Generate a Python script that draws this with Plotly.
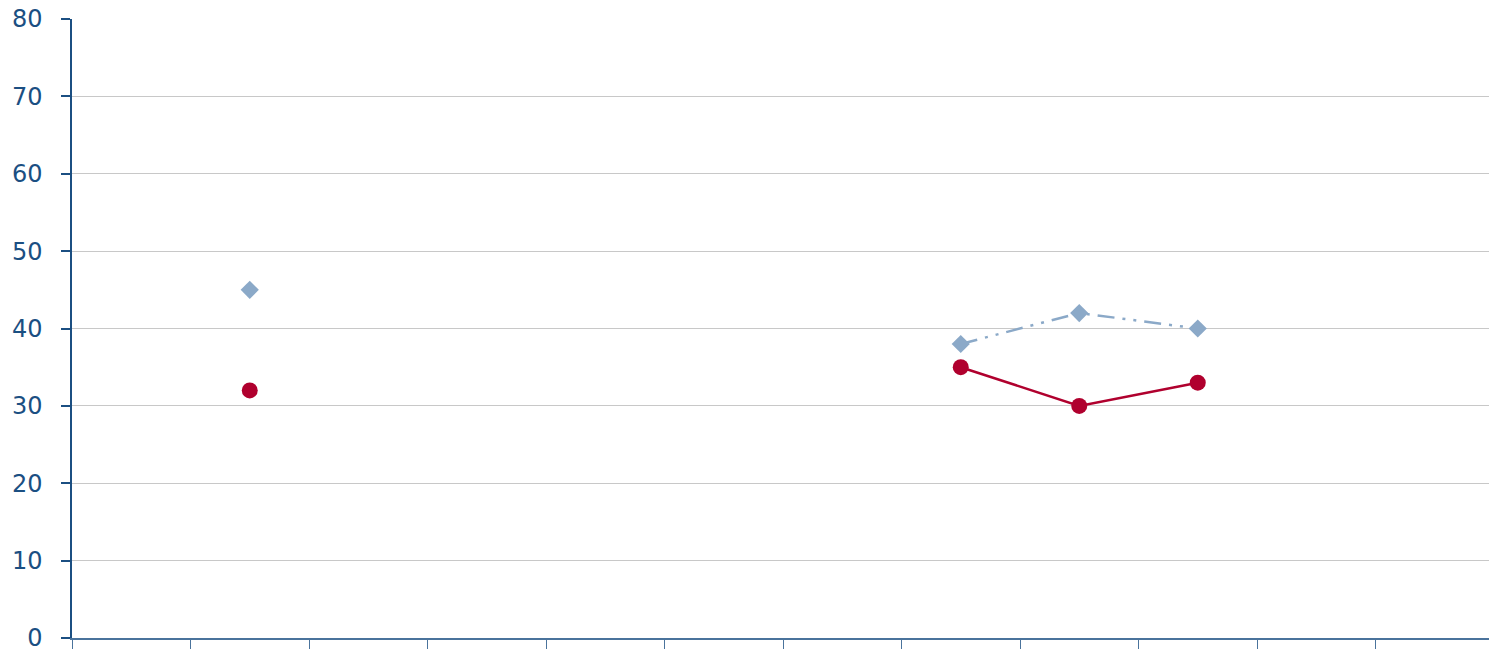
import plotly.graph_objects as go

categories = [str(i) for i in range(1, 13)]
series_a = [None, 45, None, None, None, None, None, 38, 42, 40, None, None]  # blue diamonds
series_b = [None, 32, None, None, None, None, None, 35, 30, 33, None, None]  # red circles
y_ticks = [0, 10, 20, 30, 40, 50, 60, 70, 80]

x_idx = list(range(len(categories)))

fig = go.Figure()
fig.add_trace(go.Scatter(
    x=x_idx, y=series_a, mode="lines+markers", connectgaps=False,
    line=dict(color="#8BA9C8", width=2.5, dash="17px,8px,3px,8px,3px,8px"),
    marker=dict(symbol="diamond", size=14, color="#8BA9C8"),
    showlegend=False,
))
fig.add_trace(go.Scatter(
    x=x_idx, y=series_b, mode="lines+markers", connectgaps=False,
    line=dict(color="#B0002E", width=2.5),
    marker=dict(symbol="circle", size=16, color="#B0002E"),
    showlegend=False,
))

fig.update_layout(
    width=1494, height=649,
    margin=dict(l=72, r=0, t=19, b=11, autoexpand=False),
    paper_bgcolor="white", plot_bgcolor="white",
    font=dict(family="DejaVu Sans", size=24, color="#1B4F82"),
)
fig.update_xaxes(
    range=[-0.5, len(categories) - 0.5],
    tickmode="array", tickvals=[i - 0.5 for i in range(len(categories) + 1)],
    showticklabels=False, ticks="outside", ticklen=9, tickcolor="#4A739C", tickwidth=1,
    showgrid=False, zeroline=False, automargin=False,
    showline=True, linecolor="#4A739C", linewidth=1.5,
)
fig.update_yaxes(
    range=[0, 80], tickmode="array", tickvals=y_ticks,
    ticks="outside", ticklen=9, tickcolor="#1B4F82", tickwidth=1.5,
    showgrid=True, gridcolor="#C8C8C8", gridwidth=1,
    zeroline=False, showline=True, linecolor="#1B4F82", linewidth=1.5,
    ticklabelstandoff=14, ticklabeloverflow="allow", automargin=False,
)

fig.write_html(
    "out.html",
    config={"displayModeBar": False},
    post_script="document.body.style.margin='0';document.body.style.overflow='hidden';",
)
